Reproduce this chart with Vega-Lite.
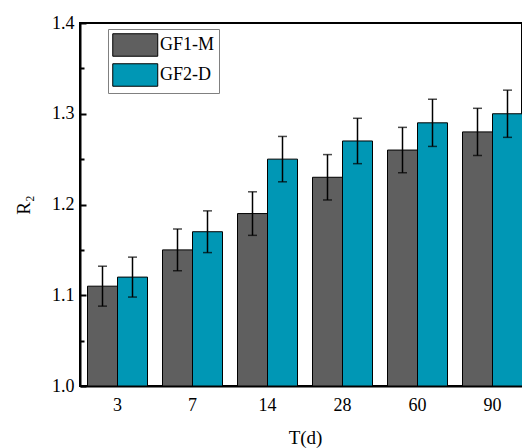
{
  "$schema": "https://vega.github.io/schema/vega-lite/v6.json",
  "width": 442,
  "height": 363,
  "autosize": {"type": "none"},
  "padding": {"left": 80, "top": 23, "right": 0, "bottom": 62},
  "background": "white",
  "config": {
    "font": "Liberation Serif",
    "view": {"stroke": "black", "strokeWidth": 2},
    "axis": {
      "labelFont": "Liberation Serif",
      "titleFont": "Liberation Serif",
      "labelFontSize": 18,
      "titleFontSize": 19,
      "titleFontWeight": "normal",
      "labelColor": "black",
      "titleColor": "black",
      "domainColor": "black",
      "domainWidth": 2,
      "tickColor": "black",
      "tickWidth": 2,
      "grid": false
    },
    "legend": {"labelFont": "Liberation Serif"}
  },
  "data": {
    "values": [
      {"T": "3", "series": "GF1-M", "value": 1.11, "lo": 1.088, "hi": 1.132},
      {"T": "3", "series": "GF2-D", "value": 1.12, "lo": 1.098, "hi": 1.142},
      {"T": "7", "series": "GF1-M", "value": 1.15, "lo": 1.127, "hi": 1.173},
      {"T": "7", "series": "GF2-D", "value": 1.17, "lo": 1.147, "hi": 1.193},
      {"T": "14", "series": "GF1-M", "value": 1.19, "lo": 1.166, "hi": 1.214},
      {"T": "14", "series": "GF2-D", "value": 1.25, "lo": 1.225, "hi": 1.275},
      {"T": "28", "series": "GF1-M", "value": 1.23, "lo": 1.205, "hi": 1.255},
      {"T": "28", "series": "GF2-D", "value": 1.27, "lo": 1.245, "hi": 1.295},
      {"T": "60", "series": "GF1-M", "value": 1.26, "lo": 1.235, "hi": 1.285},
      {"T": "60", "series": "GF2-D", "value": 1.29, "lo": 1.264, "hi": 1.316},
      {"T": "90", "series": "GF1-M", "value": 1.28, "lo": 1.254, "hi": 1.306},
      {"T": "90", "series": "GF2-D", "value": 1.30, "lo": 1.274, "hi": 1.326}
    ]
  },
  "encoding": {
    "x": {
      "field": "T",
      "type": "ordinal",
      "sort": ["3", "7", "14", "28", "60", "90"],
      "scale": {"range": [0, 450], "paddingInner": 0.2, "paddingOuter": 0.1},
      "axis": {
        "title": "T(d)",
        "labelAngle": 0,
        "ticks": false,
        "labelPadding": 10,
        "titlePadding": 14
      }
    },
    "xOffset": {"field": "series", "type": "nominal"}
  },
  "layer": [
    {
      "mark": {"type": "bar", "stroke": "black", "strokeWidth": 1},
      "encoding": {
        "y": {
          "field": "value",
          "type": "quantitative",
          "stack": null,
          "scale": {"domain": [1.0, 1.4], "zero": false, "nice": false},
          "axis": {
            "title": "R₂",
            "values": [1.0, 1.1, 1.2, 1.3, 1.4],
            "format": ".1f",
            "tickSize": -6,
            "labelPadding": 12,
            "titlePadding": 18
          }
        },
        "color": {
          "field": "series",
          "type": "nominal",
          "scale": {"domain": ["GF1-M", "GF2-D"], "range": ["#5f5f5f", "#0097b5"]},
          "legend": {
            "title": null,
            "orient": "none",
            "legendX": 28,
            "legendY": 6,
            "padding": 4,
            "strokeColor": "#808080",
            "fillColor": "white",
            "symbolType": "M-1,-1H3V1H-1Z",
            "symbolSize": 506,
            "symbolStrokeColor": "black",
            "symbolStrokeWidth": 1,
            "symbolOpacity": 1,
            "labelFontSize": 18,
            "labelColor": "black",
            "labelOffset": 24,
            "rowPadding": 2
          }
        }
      }
    },
    {
      "mark": {"type": "rule", "color": "black", "strokeWidth": 1.5},
      "encoding": {
        "y": {
          "field": "lo",
          "type": "quantitative",
          "axis": {
            "title": null,
            "orient": "left",
            "values": [1.05, 1.15, 1.25, 1.35],
            "labels": false,
            "domain": false,
            "tickSize": -4
          }
        },
        "y2": {"field": "hi"}
      }
    },
    {
      "mark": {"type": "tick", "color": "black", "size": 9, "thickness": 1.5},
      "encoding": {"y": {"field": "lo", "type": "quantitative", "axis": null}}
    },
    {
      "mark": {"type": "tick", "color": "black", "size": 9, "thickness": 1.5},
      "encoding": {"y": {"field": "hi", "type": "quantitative", "axis": null}}
    }
  ],
  "resolve": {"axis": {"y": "independent"}}
}
